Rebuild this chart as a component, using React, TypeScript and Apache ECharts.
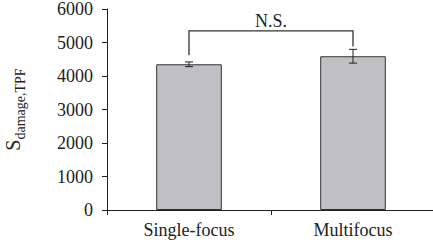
import React, { useEffect, useRef } from "react";
import * as echarts from "echarts";

const categories = ["Single-focus", "Multifocus"];
const means = [4350, 4590];
const errors = [70, 205];
const yTicks = [0, 1000, 2000, 3000, 4000, 5000, 6000];
const bracketTop = 5350;
const bracketFeet = [4620, 4880];
const sigLabel = "N.S.";

const FONT = "Liberation Serif";

export default function App() {
  const ref = useRef<HTMLDivElement>(null);
  useEffect(() => {
    const chart = echarts.init(ref.current!, null, { renderer: "svg" });
    chart.setOption({
      animation: false,
      grid: { left: 107, top: 9, width: 328, bottom: 38, containLabel: false, outerBoundsMode: "none" },
      xAxis: {
        type: "category",
        data: categories,
        axisLine: { lineStyle: { color: "#222", width: 1 } },
        axisTick: { show: true, length: 5, lineStyle: { color: "#222" } },
        axisLabel: { color: "#222", fontFamily: FONT, fontSize: 18, margin: 11 },
      },
      yAxis: {
        type: "value",
        min: yTicks[0],
        max: yTicks[yTicks.length - 1],
        interval: 1000,
        splitLine: { show: false },
        axisLine: { show: true, lineStyle: { color: "#222", width: 1 } },
        axisTick: { show: true, length: 5, lineStyle: { color: "#222" } },
        axisLabel: {
          color: "#222",
          fontFamily: FONT,
          fontSize: 18,
          lineHeight: 16,
          margin: 14,
          formatter: (v: number) => String(v),
        },
        name: "{s|S}{sub|damage,TPF}",
        nameLocation: "middle",
        nameRotate: 90,
        nameGap: 84,
        nameTextStyle: {
          rich: {
            s: { fontFamily: FONT, fontSize: 20, color: "#222", lineHeight: 22, verticalAlign: "bottom" },
            sub: { fontFamily: FONT, fontSize: 14, color: "#222", lineHeight: 22, verticalAlign: "bottom", padding: [0, 0, -4, 0] },
          },
        },
      },
      series: [
        {
          type: "bar",
          data: means,
          barWidth: "40%",
          itemStyle: { color: "#c0bfc4", borderColor: "#333", borderWidth: 1 },
        },
        {
          type: "custom",
          data: means.map((m, i) => [i, m - errors[i], m + errors[i]]),
          z: 10,
          renderItem: (params: any, api: any) => {
            const x = api.value(0);
            const lo = api.coord([x, api.value(1)]);
            const hi = api.coord([x, api.value(2)]);
            const hw = 4;
            const style = { stroke: "#222", lineWidth: 1 };
            return {
              type: "group",
              children: [
                { type: "line", shape: { x1: lo[0], y1: lo[1], x2: hi[0], y2: hi[1] }, style },
                { type: "line", shape: { x1: lo[0] - hw, y1: lo[1], x2: lo[0] + hw, y2: lo[1] }, style },
                { type: "line", shape: { x1: hi[0] - hw, y1: hi[1], x2: hi[0] + hw, y2: hi[1] }, style },
              ],
            };
          },
        },
        {
          type: "custom",
          data: [[0, 1, bracketTop, bracketFeet[0], bracketFeet[1]]],
          z: 10,
          renderItem: (params: any, api: any) => {
            const a = api.coord([api.value(0), api.value(2)]);
            const b = api.coord([api.value(1), api.value(2)]);
            const fa = api.coord([api.value(0), api.value(3)]);
            const fb = api.coord([api.value(1), api.value(4)]);
            return {
              type: "group",
              children: [
                {
                  type: "polyline",
                  shape: { points: [[fa[0], fa[1]], [a[0], a[1]], [b[0], b[1]], [fb[0], fb[1]]] },
                  style: { stroke: "#333", lineWidth: 1.3, fill: "none" },
                },
                {
                  type: "text",
                  style: {
                    text: sigLabel,
                    x: (a[0] + b[0]) / 2,
                    y: a[1] - 1,
                    align: "center",
                    verticalAlign: "bottom",
                    fontFamily: FONT,
                    fontSize: 18,
                    fill: "#222",
                  },
                },
              ],
            };
          },
        },
      ],
    });
    return () => chart.dispose();
  }, []);
  return (
    <div
      ref={ref}
      style={{ position: "fixed", left: 0, top: 0, width: 433, height: 248, background: "#fff" }}
    />
  );
}
